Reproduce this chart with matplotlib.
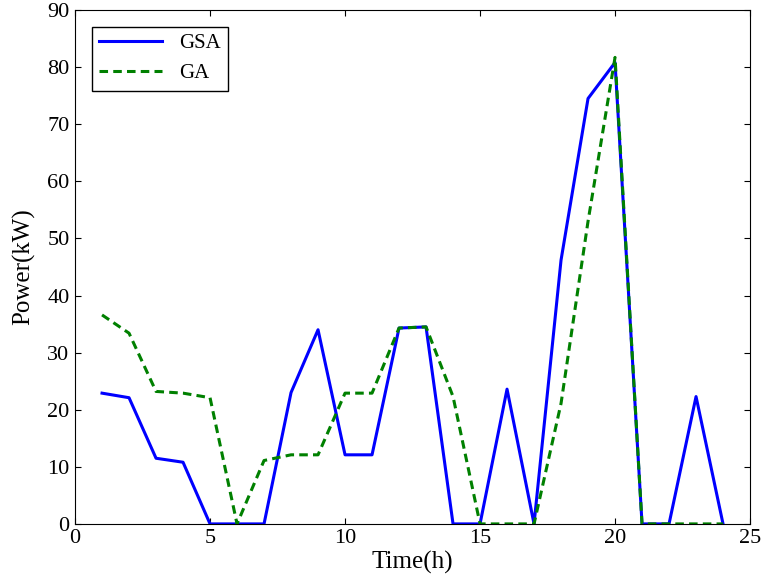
import matplotlib
matplotlib.use("Agg")
import matplotlib.pyplot as plt

plt.rcParams["font.family"] = ["Liberation Serif", "DejaVu Serif"]

hours = list(range(1, 25))
gsa = [22.9, 22.1, 11.5, 10.8, 0, 0, 0, 23.0, 34.0, 12.1, 12.1, 34.3,
       34.5, 0, 0, 23.6, 0, 46.2, 74.5, 80.8, 0, 0, 22.3, 0]
ga = [36.6, 33.4, 23.2, 22.9, 22.1, 0, 11.1, 12.1, 12.1, 22.9, 22.9, 34.3,
      34.5, 22.3, 0, 0, 0, 21.1, 53.0, 81.7, 0, 0, 0, 0]

fig = plt.figure(figsize=(7.61, 5.88), dpi=100)
ax = fig.add_axes([0.0986, 0.109, 0.887, 0.874])

ax.plot(hours, gsa, color="#0000ff", lw=2.2, label="GSA")
ax.plot(hours, ga, color="#008000", lw=2.2, ls="--", dashes=(2.8, 1.7), label="GA")

ax.set_xlim(0, 25)
ax.set_ylim(0, 90)
ax.set_xticks(range(0, 26, 5))
ax.set_yticks(range(0, 91, 10))
ax.tick_params(direction="in", top=True, right=True, labelsize=16, length=4, pad=4)
ax.set_xlabel("Time(h)", fontsize=18, labelpad=2)
ax.set_ylabel("Power(kW)", fontsize=18, labelpad=9)

leg = ax.legend(loc="upper left", fontsize=15, fancybox=False, framealpha=1,
                edgecolor="black", handlelength=3.0, borderpad=0.35,
                labelspacing=0.5, bbox_to_anchor=(0.01, 0.988))
leg.get_frame().set_linewidth(1.0)

fig.savefig("out.png", dpi=100)
